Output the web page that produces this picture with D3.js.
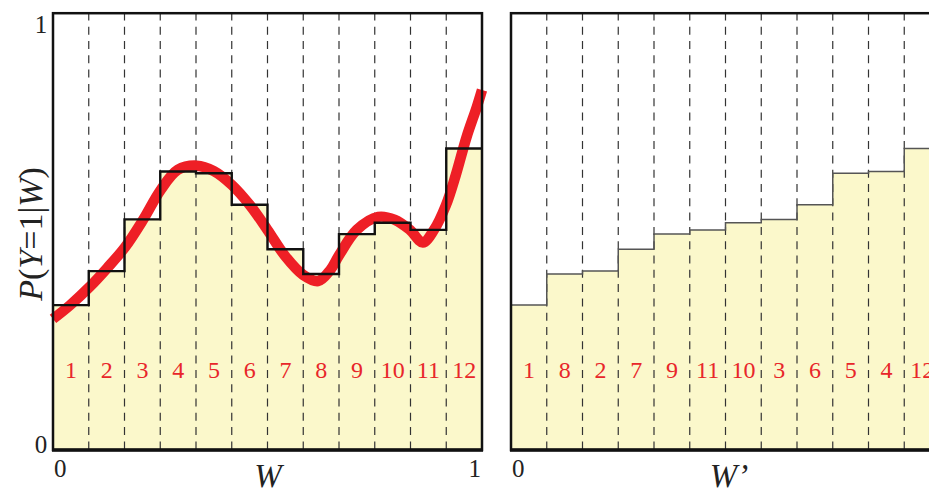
<!DOCTYPE html>
<html>
<head>
<meta charset="utf-8">
<script src="https://cdn.jsdelivr.net/npm/d3@7"></script>
<style>
  html, body { margin: 0; padding: 0; background: #fff; }
  svg { display: block; }
  text { font-family: "Liberation Serif", "DejaVu Serif", serif; }
</style>
</head>
<body>
<svg id="chart" width="929" height="493"></svg>
<script>
// Bin labels and the mean of P(Y=1|W) inside each bin
const binLabels = [1, 2, 3, 4, 5, 6, 7, 8, 9, 10, 11, 12];
const binValues = [0.345, 0.426, 0.549, 0.663, 0.659, 0.584, 0.478, 0.419, 0.514, 0.541, 0.524, 0.718];

// Bins re-ordered by their mean (the W' axis)
const sortedLabels = [1, 8, 2, 7, 9, 11, 10, 3, 6, 5, 4, 12];

// Underlying smooth curve P(Y=1|W)
const curveW = [0, 0.040, 0.085, 0.126, 0.168, 0.210, 0.251, 0.291, 0.335, 0.375, 0.417, 0.459,
  0.500, 0.541, 0.583, 0.618, 0.646, 0.667, 0.708, 0.758, 0.797, 0.832, 0.862, 0.888,
  0.916, 0.939, 0.964, 0.988, 1.0];
const curveP = [0.312, 0.345, 0.388, 0.433, 0.483, 0.548, 0.619, 0.667, 0.677, 0.664, 0.631, 0.583,
  0.524, 0.462, 0.417, 0.402, 0.428, 0.464, 0.524, 0.555, 0.548, 0.524, 0.494, 0.524,
  0.583, 0.655, 0.745, 0.817, 0.857];

// Axis tick labels
const yTicks = ["0", "1"];
const xTicksLeft = ["0", "1"];
const xTicksRight = ["0"];

const svg = d3.select("#chart");
const nBins = binLabels.length;
const yTop = 1.04;

const y = d3.scaleLinear().domain([0, 1]).range([450, 30]);
const xL = d3.scaleLinear().domain([0, 1]).range([53, 482]);
const xR = d3.scaleLinear().domain([0, 1]).range([511, 940]);

const fillColor = "#fbf8cb";
const red = "#ee1f26";

function stepPoints(values) {
  const pts = values.map((v, i) => [i / nBins, v]);
  pts.push([1, values[values.length - 1]]);
  return pts;
}

function drawPanel(x, values, labels, stepColor, stepWidth, withCurve) {
  const g = svg.append("g");
  const pts = stepPoints(values);

  // shaded area under the step function
  g.append("path")
    .attr("d", d3.area().curve(d3.curveStepAfter)
      .x(d => x(d[0])).y0(y(0)).y1(d => y(d[1]))(pts))
    .attr("fill", fillColor);

  // bin separators
  g.selectAll("line.sep")
    .data(d3.range(1, nBins))
    .join("line")
    .attr("class", "sep")
    .attr("x1", k => x(k / nBins)).attr("x2", k => x(k / nBins))
    .attr("y1", 14).attr("y2", y(0))
    .attr("stroke", "#333")
    .attr("stroke-width", 1.2)
    .attr("stroke-dasharray", "8,6.3")
    .attr("stroke-dashoffset", 1.6);

  if (withCurve) {
    g.append("path")
      .attr("d", d3.line().curve(d3.curveCatmullRom.alpha(0.5))
        .x((d, i) => x(curveW[i])).y(d => y(d))(curveP))
      .attr("fill", "none")
      .attr("stroke", red)
      .attr("stroke-width", 10.5);
  }

  // step outline
  g.append("path")
    .attr("d", d3.line().curve(d3.curveStepAfter)
      .x(d => x(d[0])).y(d => y(d[1]))(pts))
    .attr("fill", "none")
    .attr("stroke", stepColor)
    .attr("stroke-width", stepWidth);

  // bin numbers
  g.selectAll("text.bin")
    .data(labels)
    .join("text")
    .attr("class", "bin")
    .attr("x", (d, i) => x((i + 0.5) / nBins))
    .attr("y", 378)
    .attr("text-anchor", "middle")
    .attr("font-size", 24)
    .attr("fill", "#e8262a")
    .text(d => d);

  // frame
  g.append("rect")
    .attr("x", x(0)).attr("y", y(yTop))
    .attr("width", x(1) - x(0)).attr("height", y(0) - y(yTop))
    .attr("fill", "none")
    .attr("stroke", "#111")
    .attr("stroke-width", 2.5);
  g.append("line")
    .attr("x1", x(0) - 1).attr("x2", x(1) + 1)
    .attr("y1", y(0)).attr("y2", y(0))
    .attr("stroke", "#111").attr("stroke-width", 3.5);
  return g;
}

drawPanel(xL, binValues, binLabels, "#111", 2.4, true);
const sortedValues = sortedLabels.map(l => binValues[binLabels.indexOf(l)]);
drawPanel(xR, sortedValues, sortedLabels, "#555", 1.5, false);

// y tick labels
svg.selectAll("text.ytick")
  .data(yTicks)
  .join("text")
  .attr("class", "ytick")
  .attr("x", 41)
  .attr("y", d => y(+d) + 3)
  .attr("text-anchor", "middle")
  .attr("font-size", 25)
  .attr("fill", "#222")
  .text(d => d);

// x tick labels
svg.append("text").attr("x", xL(0) + 1).attr("y", 477).attr("font-size", 25).attr("fill", "#222").text(xTicksLeft[0]);
svg.append("text").attr("x", xL(1) - 1).attr("y", 477).attr("text-anchor", "end").attr("font-size", 25).attr("fill", "#222").text(xTicksLeft[1]);
svg.append("text").attr("x", xR(0) + 1).attr("y", 477).attr("font-size", 25).attr("fill", "#222").text(xTicksRight[0]);

// axis titles
svg.append("text")
  .attr("x", 268).attr("y", 487)
  .attr("text-anchor", "middle")
  .attr("font-size", 33).attr("font-style", "italic").attr("fill", "#222")
  .text("W");
svg.append("text")
  .attr("x", 729).attr("y", 487)
  .attr("text-anchor", "middle")
  .attr("font-size", 33).attr("font-style", "italic").attr("fill", "#222")
  .text("W’");

const yl = svg.append("text")
  .attr("transform", "translate(42,234) rotate(-90)")
  .attr("text-anchor", "middle")
  .attr("font-size", 34).attr("fill", "#222");
yl.append("tspan").attr("font-style", "italic").text("P");
yl.append("tspan").text("(");
yl.append("tspan").attr("font-style", "italic").text("Y");
yl.append("tspan").text("=1|");
yl.append("tspan").attr("font-style", "italic").text("W");
yl.append("tspan").text(")");
</script>
</body>
</html>
